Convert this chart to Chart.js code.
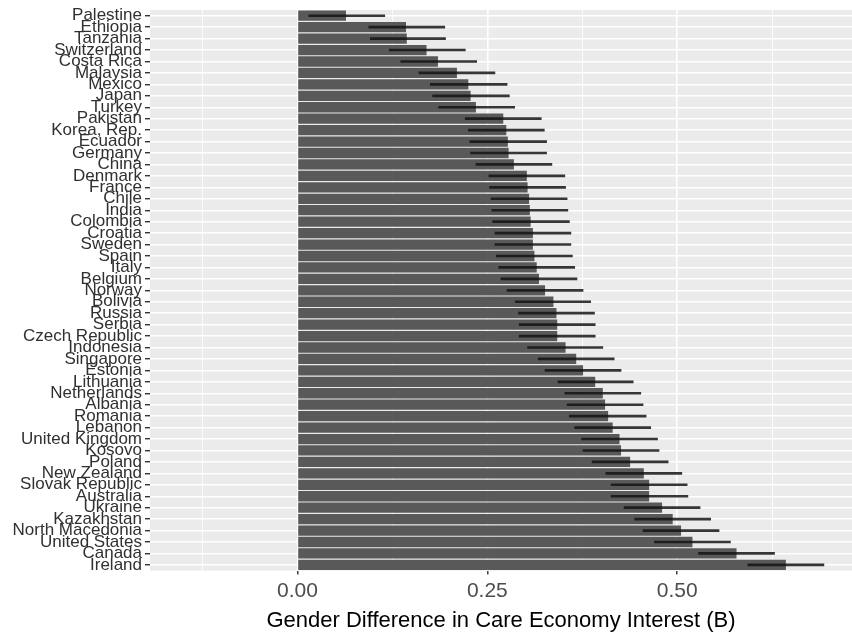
<!DOCTYPE html>
<html>
<head>
<meta charset="utf-8">
<script src="https://cdn.jsdelivr.net/npm/chart.js@4"></script>
<style>
  body { margin: 0; background: #fff; }
  #wrap { width: 852px; height: 633px; }
</style>
</head>
<body>
<div id="wrap"><canvas id="careChart" width="852" height="633"></canvas></div>
<script>
// Countries, top to bottom
const countries = ['Palestine', 'Ethiopia', 'Tanzania', 'Switzerland', 'Costa Rica', 'Malaysia', 'Mexico', 'Japan', 'Turkey', 'Pakistan',
  'Korea, Rep.', 'Ecuador', 'Germany', 'China', 'Denmark', 'France', 'Chile', 'India', 'Colombia', 'Croatia',
  'Sweden', 'Spain', 'Italy', 'Belgium', 'Norway', 'Bolivia', 'Russia', 'Serbia', 'Czech Republic', 'Indonesia',
  'Singapore', 'Estonia', 'Lithuania', 'Netherlands', 'Albania', 'Romania', 'Lebanon', 'United Kingdom', 'Kosovo', 'Poland',
  'New Zealand', 'Slovak Republic', 'Australia', 'Ukraine', 'Kazakhstan', 'North Macedonia', 'United States', 'Canada', 'Ireland'];

// Estimated gender difference (B)
const estimates = [0.064, 0.143, 0.144, 0.170, 0.185, 0.210, 0.225, 0.228, 0.235, 0.271,
  0.275, 0.277, 0.278, 0.285, 0.302, 0.303, 0.305, 0.306, 0.307, 0.310,
  0.310, 0.312, 0.315, 0.318, 0.326, 0.337, 0.341, 0.342, 0.342, 0.353,
  0.367, 0.376, 0.392, 0.402, 0.405, 0.409, 0.415, 0.424, 0.426, 0.438,
  0.456, 0.463, 0.463, 0.480, 0.494, 0.505, 0.520, 0.578, 0.643];

// Confidence interval ends
const ciLow = [0.015, 0.094, 0.096, 0.121, 0.136, 0.160, 0.175, 0.178, 0.186, 0.221,
  0.225, 0.227, 0.228, 0.235, 0.252, 0.253, 0.255, 0.256, 0.257, 0.260,
  0.260, 0.262, 0.265, 0.268, 0.276, 0.287, 0.291, 0.292, 0.292, 0.303,
  0.317, 0.326, 0.343, 0.352, 0.355, 0.358, 0.365, 0.374, 0.376, 0.388,
  0.406, 0.413, 0.413, 0.430, 0.444, 0.455, 0.470, 0.528, 0.593];
const ciHigh = [0.115, 0.194, 0.195, 0.221, 0.236, 0.260, 0.276, 0.279, 0.286, 0.321,
  0.325, 0.328, 0.328, 0.335, 0.352, 0.353, 0.355, 0.356, 0.358, 0.360,
  0.360, 0.362, 0.365, 0.368, 0.376, 0.386, 0.391, 0.392, 0.392, 0.402,
  0.417, 0.426, 0.442, 0.452, 0.455, 0.459, 0.465, 0.474, 0.476, 0.488,
  0.506, 0.513, 0.514, 0.530, 0.544, 0.555, 0.570, 0.628, 0.693];

// x axis ticks: labelled majors and unlabelled minors
const majorTicks = [0, 0.25, 0.5];
const minorTicks = [-0.125, 0.125, 0.375, 0.625];

const isMajor = v => majorTicks.some(m => Math.abs(m - v) < 1e-9);

// grey panel like ggplot
const panelBg = {
  id: 'panelBg',
  beforeDraw(chart) {
    const a = chart.chartArea;
    const ctx = chart.ctx;
    ctx.save();
    ctx.fillStyle = '#EBEBEB';
    ctx.fillRect(a.left, a.top, a.right - a.left, a.bottom - a.top);
    ctx.restore();
  }
};

const ctx = document.getElementById('careChart').getContext('2d');
new Chart(ctx, {
  type: 'bar',
  data: {
    labels: countries,
    datasets: [
      {
        data: estimates,
        backgroundColor: '#595959',
        borderWidth: 0,
        categoryPercentage: 0.9,
        barPercentage: 1.0,
        grouped: false,
        order: 2
      },
      {
        // error bars on top of the bars
        data: countries.map((c, i) => [ciLow[i], ciHigh[i]]),
        backgroundColor: 'rgba(20,20,20,0.85)',
        borderWidth: 0,
        barThickness: 2,
        grouped: false,
        order: 1
      }
    ]
  },
  options: {
    indexAxis: 'y',
    responsive: false,
    animation: false,
    layout: { padding: { left: 0, right: 0, top: 10, bottom: 0 } },
    plugins: {
      legend: { display: false },
      tooltip: { enabled: false }
    },
    scales: {
      x: {
        type: 'linear',
        min: -0.194,
        max: 0.73,
        afterBuildTicks(scale) {
          scale.ticks = minorTicks.concat(majorTicks).sort((a, b) => a - b).map(v => ({ value: v }));
        },
        ticks: {
          autoSkip: false,
          maxRotation: 0,
          padding: 4,
          color: '#4D4D4D',
          font: { family: 'Liberation Sans', size: 21 },
          callback: v => isMajor(v) ? v.toFixed(2) : ''
        },
        grid: {
          color: '#FFFFFF',
          lineWidth: c => (c.tick && isMajor(c.tick.value)) ? 1.6 : 0.8,
          tickColor: c => (c.tick && isMajor(c.tick.value)) ? '#333333' : 'rgba(0,0,0,0)',
          tickLength: 4,
          tickWidth: 1.4
        },
        border: { display: false },
        title: {
          display: true,
          text: 'Gender Difference in Care Economy Interest (B)',
          color: '#000000',
          font: { family: 'Liberation Sans', size: 22, lineHeight: 1.1 },
          padding: { top: 1, bottom: 0 }
        }
      },
      y: {
        type: 'category',
        afterFit(scale) {
          scale.width = 150;
          // labels may overhang the panel like in ggplot
          scale.paddingTop = 0;
          scale.paddingBottom = 0;
        },
        ticks: {
          autoSkip: false,
          padding: 3,
          color: '#303030',
          font: { family: 'Liberation Sans', size: 17, lineHeight: 1.0 }
        },
        grid: {
          offset: false,
          color: '#FFFFFF',
          lineWidth: 1.4,
          tickColor: '#333333',
          tickLength: 5,
          tickWidth: 1.4
        },
        border: { display: false }
      }
    }
  },
  plugins: [panelBg]
});
</script>
</body>
</html>
